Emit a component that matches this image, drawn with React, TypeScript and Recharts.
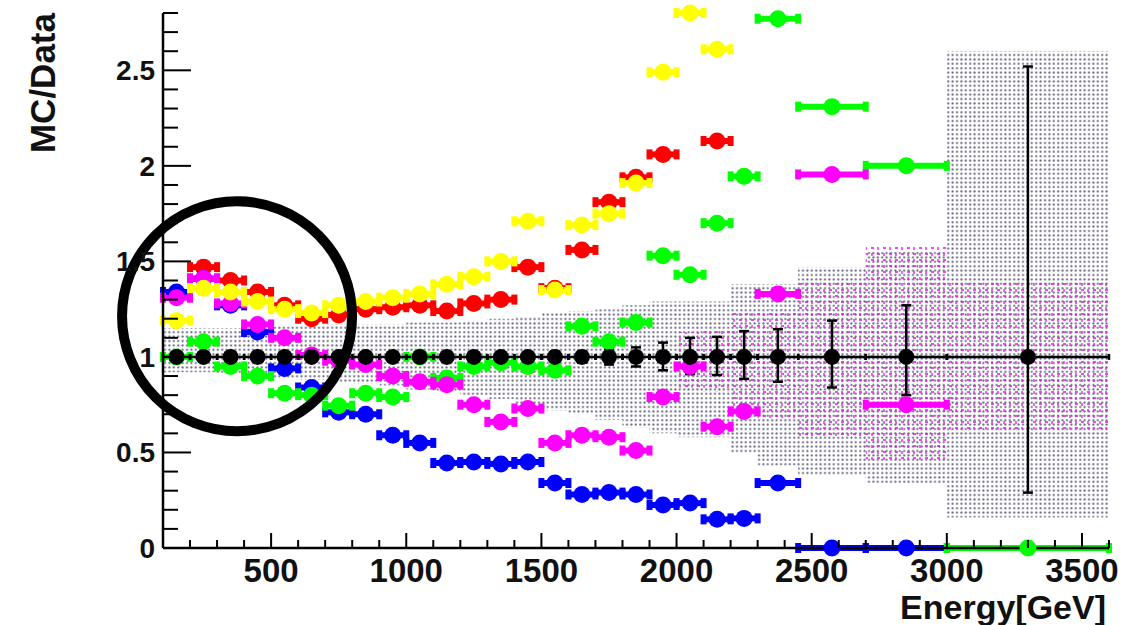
import {
  ComposedChart,
  Area,
  Scatter,
  ErrorBar,
  XAxis,
  YAxis,
  ReferenceDot,
} from 'recharts';

const FONT = '"Liberation Sans", Arial, Helvetica, sans-serif';

// energy bins (GeV): centres and half widths
const binCenters = [
  150, 250, 350, 450, 550, 650, 750, 850, 950, 1050, 1150, 1250, 1350, 1450,
  1550, 1650, 1750, 1850, 1950, 2050, 2150, 2250, 2375, 2575, 2850, 3300,
];
const binHalfWidths = [
  50, 50, 50, 50, 50, 50, 50, 50, 50, 50, 50, 50, 50, 50, 50, 50, 50, 50, 50,
  50, 50, 50, 75, 125, 150, 300,
];

// data / data = 1, errors below and above
const dataErrLow = [
  0.01, 0.01, 0.01, 0.01, 0.01, 0.01, 0.01, 0.015, 0.015, 0.015, 0.02, 0.02,
  0.02, 0.025, 0.025, 0.03, 0.04, 0.05, 0.07, 0.09, 0.095, 0.115, 0.13, 0.16,
  0.2, 0.71,
];
const dataErrHigh = [
  0.01, 0.01, 0.01, 0.01, 0.01, 0.01, 0.01, 0.015, 0.015, 0.015, 0.02, 0.02,
  0.02, 0.025, 0.03, 0.03, 0.04, 0.05, 0.075, 0.1, 0.105, 0.135, 0.145, 0.19,
  0.27, 1.52,
];

// MC/Data ratios per bin (null = not drawn)
const redRatio = [
  null, 1.47, 1.4, 1.34, 1.27, 1.2, 1.22, 1.25, 1.26, 1.27, 1.24, 1.28, 1.3,
  1.47, 1.36, 1.56, 1.81, 1.94, 2.06, null, 2.13, null, null, null, null, null,
];
const yellowRatio = [
  1.19, 1.36, 1.34, 1.29, 1.25, 1.23, 1.27, 1.29, 1.31, 1.33, 1.38, 1.42, 1.5,
  1.71, 1.35, 1.69, 1.75, 1.91, 2.49, 2.8, 2.61, null, null, null, null, null,
];
const magentaRatio = [
  1.31, 1.41, 1.28, 1.17, 1.1, 1.01, 0.98, 0.96, 0.9, 0.87, 0.855, 0.75, 0.66,
  0.73, 0.55, 0.59, 0.58, 0.51, 0.79, 0.95, 0.635, 0.715, 1.33, 1.955, 0.75,
  null,
];
const blueRatio = [
  1.34, 1.41, 1.27, 1.13, 0.94, 0.84, 0.71, 0.7, 0.59, 0.55, 0.445, 0.45, 0.44,
  0.45, 0.34, 0.28, 0.29, 0.28, 0.225, 0.235, 0.15, 0.155, 0.34, 0, 0, null,
];
const greenRatio = [
  1.0, 1.08, 0.95, 0.9, 0.81, 0.8, 0.745, 0.81, 0.79, 1.0, 0.89, 0.95, 0.97,
  0.95, 0.93, 1.16, 1.08, 1.18, 1.53, 1.43, 1.7, 1.945, 2.77, 2.31, 2.0, 0,
];

// uncertainty bands, one value per bin starting at each edge
const bandEdges = [
  100, 200, 300, 400, 500, 600, 700, 800, 900, 1000, 1100, 1200, 1300, 1400,
  1500, 1600, 1700, 1800, 1900, 2000, 2100, 2200, 2300, 2450, 2700, 3000,
];
const bandEnd = 3600;
const greyLow = [
  0.92, 0.92, 0.91, 0.9, 0.89, 0.88, 0.87, 0.86, 0.85, 0.83, 0.82, 0.8, 0.78,
  0.75, 0.72, 0.7, 0.67, 0.63, 0.6, 0.58, 0.58, 0.5, 0.43, 0.38, 0.34, 0.16,
];
const greyHigh = [
  1.15, 1.15, 1.15, 1.15, 1.16, 1.16, 1.17, 1.17, 1.17, 1.18, 1.18, 1.19, 1.2,
  1.21, 1.23, 1.24, 1.25, 1.27, 1.29, 1.29, 1.29, 1.38, 1.38, 1.47, 1.55, 2.6,
];
const pinkLow = [
  null, null, null, null, null, null, null, null, null, null, null, null, null,
  null, null, null, null, null, null, 0.84, 0.82, 0.7, 0.68, 0.57, 0.46, 0.62,
];
const pinkHigh = [
  null, null, null, null, null, null, null, null, null, null, null, null, null,
  null, null, null, null, null, null, 1.13, 1.14, 1.23, 1.25, 1.4, 1.58, 1.39,
];

const xMajorLabels = [500, 1000, 1500, 2000, 2500, 3000, 3500];
const yMajorLabels = [0, 0.5, 1, 1.5, 2, 2.5];

const xTicks = Array.from({length: 36}, (_, i) => 100 + i * 100);
const yTicks = Array.from({length: 29}, (_, i) => Math.round(i * 10) / 100);

const band = [...bandEdges, bandEnd].map((x, i) => {
  const k = Math.min(i, bandEdges.length - 1);
  return {
    x,
    grey: [greyLow[k], greyHigh[k]],
    pink: pinkLow[k] == null ? null : [pinkLow[k], pinkHigh[k]],
  };
});

const toPoints = (values: (number | null)[]) =>
  binCenters
    .map((x, i) =>
      values[i] == null ? null : {x, y: values[i], ex: binHalfWidths[i]},
    )
    .filter((p) => p !== null);

const dataPoints = binCenters.map((x, i) => ({
  x,
  y: 1,
  ex: binHalfWidths[i],
  ey: [dataErrLow[i], dataErrHigh[i]],
}));

const mcSeries = [
  {name: 'red', color: '#ff0000', values: redRatio},
  {name: 'blue', color: '#0000ff', values: blueRatio},
  {name: 'green', color: '#00ff00', values: greenRatio},
  {name: 'magenta', color: '#ff00ff', values: magentaRatio},
  {name: 'yellow', color: '#ffff00', values: yellowRatio},
];

const isMajor = (v: number, step: number) =>
  Math.abs(v / step - Math.round(v / step)) < 1e-6;

const BottomTick = ({x, y, payload}: any) => {
  const major = isMajor(payload.value, 500);
  return (
    <g>
      <line x1={x} x2={x} y1={y} y2={y - (major ? 15 : 8)} stroke="#000" strokeWidth={2} />
      {xMajorLabels.includes(payload.value) && (
        <text x={x} y={y + 34} textAnchor="middle" fontSize={33} fontWeight="bold" fontFamily={FONT} fill="#111">
          {payload.value}
        </text>
      )}
    </g>
  );
};

const TopTick = ({x, y, payload}: any) => {
  const major = isMajor(payload.value, 500);
  return <line x1={x} x2={x} y1={y} y2={y + (major ? 15 : 8)} stroke="#000" strokeWidth={2} />;
};

const LeftTick = ({x, y, payload}: any) => {
  const major = isMajor(payload.value, 0.5);
  return (
    <g>
      <line x1={x} x2={x + (major ? 28 : 15)} y1={y} y2={y} stroke="#000" strokeWidth={2} />
      {yMajorLabels.includes(payload.value) && (
        <text x={x - 8} y={y + 10} textAnchor="end" fontSize={28} fontWeight="bold" fontFamily={FONT} fill="#111">
          {payload.value}
        </text>
      )}
    </g>
  );
};

const RightTick = ({x, y, payload}: any) => {
  const major = isMajor(payload.value, 0.5);
  return <line x1={x} x2={x - (major ? 15 : 9)} y1={y} y2={y} stroke="#000" strokeWidth={2} />;
};

const axisLine = {stroke: '#000', strokeWidth: 2.5};

export default function App() {
  return (
    <div style={{position: 'absolute', left: 0, top: 0, width: 1132, height: 625, background: '#fff'}}>
      <ComposedChart
        width={1132}
        height={625}
        data={band}
        margin={{top: 13, right: 23, bottom: 0, left: 0}}>
        <defs>
          <pattern id="greyDots" width="4.4" height="4.4" patternUnits="userSpaceOnUse">
            <circle cx="2.2" cy="2.2" r="1.05" fill="#62627e" />
          </pattern>
          <pattern id="pinkDash" width="12" height="12" patternUnits="userSpaceOnUse">
            <path d="M1 2h3M8 1v3M2 7v3M7 8h3" stroke="#ff00ff" strokeWidth="1.3" />
          </pattern>
        </defs>
        <XAxis
          dataKey="x"
          type="number"
          domain={[100, 3600]}
          ticks={xTicks}
          interval={0}
          tickSize={0}
          tickMargin={0}
          tickLine={false}
          axisLine={axisLine}
          height={77}
          tick={<BottomTick />}
        />
        <XAxis
          xAxisId="top"
          orientation="top"
          dataKey="x"
          type="number"
          domain={[100, 3600]}
          ticks={xTicks}
          interval={0}
          tickSize={0}
          tickMargin={0}
          tickLine={false}
          axisLine={axisLine}
          height={0}
          tick={<TopTick />}
        />
        <YAxis
          type="number"
          domain={[0, 2.8]}
          ticks={yTicks}
          interval={0}
          tickSize={0}
          tickMargin={0}
          tickLine={false}
          axisLine={axisLine}
          width={163}
          tick={<LeftTick />}
        />
        <YAxis
          yAxisId="right"
          orientation="right"
          type="number"
          domain={[0, 2.8]}
          ticks={yTicks}
          interval={0}
          tickSize={0}
          tickMargin={0}
          tickLine={false}
          axisLine={axisLine}
          width={0}
          tick={<RightTick />}
        />

        <Area
          dataKey="grey"
          type="stepAfter"
          stroke="none"
          fill="url(#greyDots)"
          fillOpacity={1}
          dot={false}
          activeDot={false}
          isAnimationActive={false}
        />
        <Area
          dataKey="pink"
          type="stepAfter"
          stroke="none"
          fill="url(#pinkDash)"
          fillOpacity={1}
          dot={false}
          activeDot={false}
          isAnimationActive={false}
        />

        {mcSeries.map((s) => (
          <Scatter
            key={s.name}
            data={toPoints(s.values)}
            dataKey="y"
            isAnimationActive={false}
            shape={(p: any) => <circle cx={p.cx} cy={p.cy} r={8.5} fill={s.color} />}>
            <ErrorBar dataKey="ex" direction="x" width={5} strokeWidth={6} stroke={s.color} />
          </Scatter>
        ))}

        <Scatter
          data={dataPoints}
          dataKey="y"
          isAnimationActive={false}
          shape={(p: any) => <circle cx={p.cx} cy={p.cy} r={8} fill="#000" />}>
          <ErrorBar dataKey="ex" direction="x" width={3} strokeWidth={2.5} stroke="#000" />
          <ErrorBar dataKey="ey" direction="y" width={5} strokeWidth={2.5} stroke="#000" />
        </Scatter>

        <ReferenceDot
          x={374}
          y={1.213}
          r={115}
          fill="none"
          stroke="#000"
          strokeWidth={10}
          ifOverflow="visible"
        />
      </ComposedChart>

      <svg
        width={1132}
        height={625}
        style={{position: 'absolute', left: 0, top: 0, pointerEvents: 'none'}}>
        <text
          x={55}
          y={13}
          transform="rotate(-90 55 13)"
          textAnchor="end"
          fontSize={35}
          fontWeight="bold"
          fontFamily={FONT}
          fill="#111">
          MC/Data
        </text>
        <text
          x={1106}
          y={619}
          textAnchor="end"
          fontSize={34}
          fontWeight="bold"
          fontFamily={FONT}
          fill="#111">
          Energy[GeV]
        </text>
      </svg>
    </div>
  );
}
